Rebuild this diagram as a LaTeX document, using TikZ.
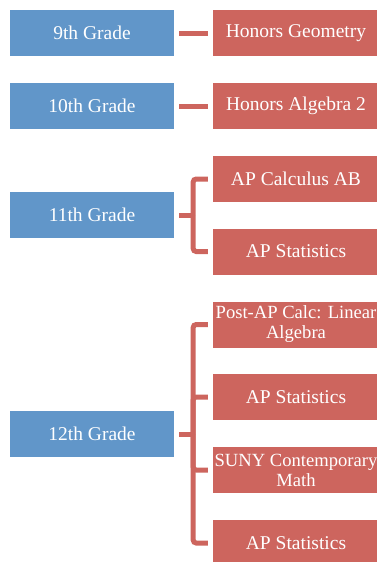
\documentclass[tikz,border=0pt]{standalone}
\usepackage{fontspec}
\setmainfont{Liberation Serif}
\begin{document}
\begin{tikzpicture}[x=1pt,y=1pt,
  gbox/.style={fill=gblue,draw=none,minimum width=164pt,minimum height=46pt,inner sep=1pt,text=white,font=\fontsize{19.5}{20}\selectfont},
  cbox/.style={fill=cred,draw=none,minimum width=166pt,minimum height=46pt,text width=164pt,inner sep=1pt,align=flush center,text=white,font=\fontsize{19.5}{20}\selectfont},
  twoline/.style={font=\fontsize{18.6}{20}\selectfont},
  conn/.style={draw=cred,line width=5pt,rounded corners=3pt},
]
\definecolor{gblue}{RGB}{97,150,201}
\definecolor{cred}{RGB}{205,101,94}
\useasboundingbox (0,0) rectangle (376,-562);
% grades
\node[gbox] (g9)  at (92,-33)  {9th Grade};
\node[gbox] (g10) at (92,-106) {10th Grade};
\node[gbox] (g11) at (92,-215) {11th Grade};
\node[gbox] (g12) at (92,-434) {12th Grade};
% courses
\node[cbox] (c9)   at (296,-33)    {Honors Geometry};
\node[cbox] (c10)  at (296,-106)   {Honors Algebra 2};
\node[cbox] (c11a) at (296,-179)   {AP Calculus AB};
\node[cbox] (c11b) at (296,-251.5) {AP Statistics};
\node[cbox,twoline] (c12a) at (296,-324.5) {Post-AP Calc: Linear\\Algebra};
\node[cbox] (c12b) at (296,-397)   {AP Statistics};
\node[cbox,twoline] (c12c) at (296,-470)   {SUNY Contemporary\\Math};
\node[cbox] (c12d) at (296,-543)   {AP Statistics};
% connectors
\draw[conn,shorten <=5pt,shorten >=5pt] (g9.east) -- (c9.west);
\draw[conn,shorten <=5pt,shorten >=5pt] (g10.east) -- (c10.west);
\coordinate (s11) at ([xshift=19pt]g11.east);
\draw[conn] ([xshift=5pt]g11.east) -- (s11);
\draw[conn] (s11) |- ([xshift=-5pt]c11a.west);
\draw[conn] (s11) |- ([xshift=-5pt]c11b.west);
\coordinate (s12) at ([xshift=19pt]g12.east);
\draw[conn] ([xshift=5pt]g12.east) -- (s12);
\draw[conn] (s12) |- ([xshift=-5pt]c12a.west);
\draw[conn] (s12) |- ([xshift=-5pt]c12b.west);
\draw[conn] (s12) |- ([xshift=-5pt]c12c.west);
\draw[conn] (s12) |- ([xshift=-5pt]c12d.west);
\end{tikzpicture}
\end{document}
